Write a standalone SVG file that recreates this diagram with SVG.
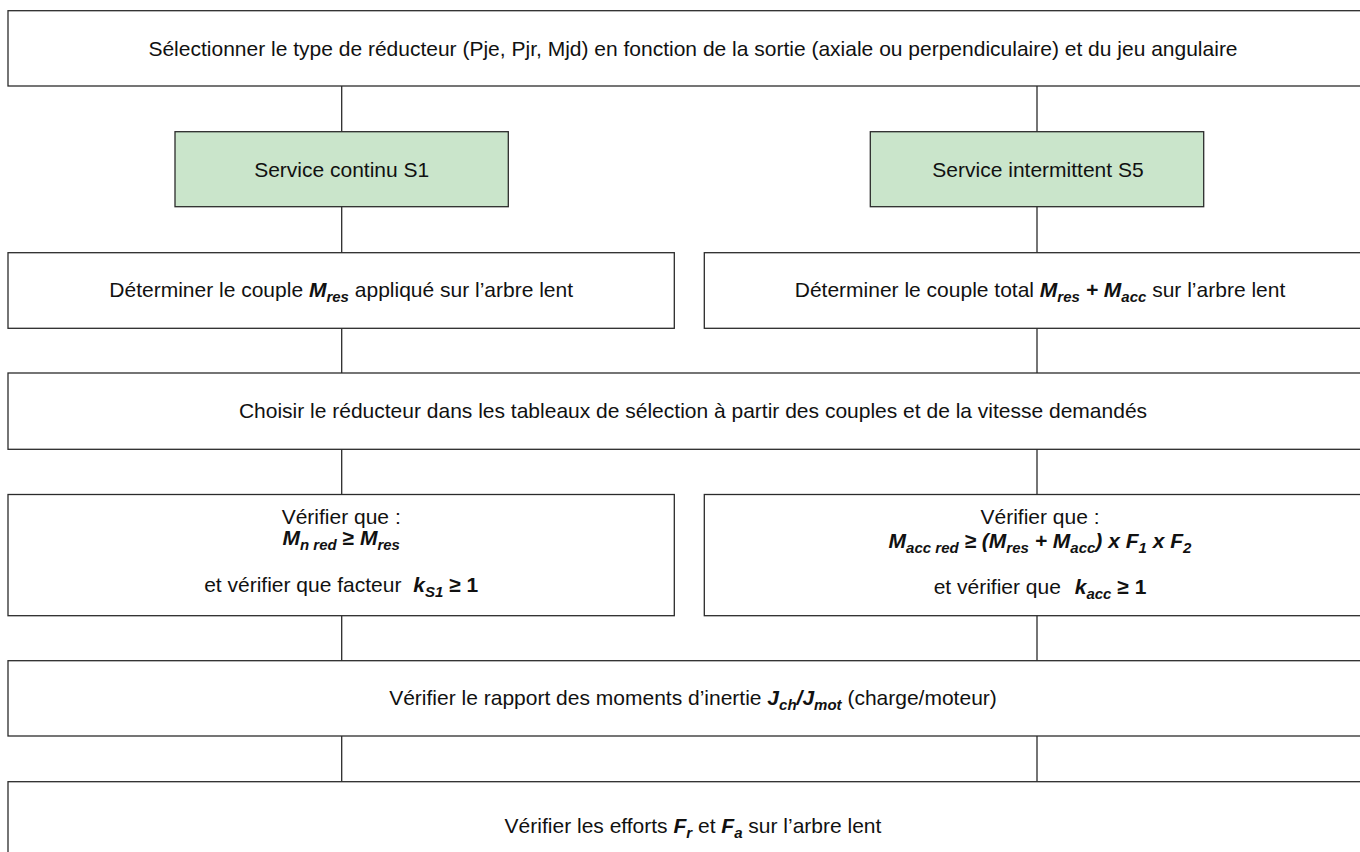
<svg xmlns="http://www.w3.org/2000/svg" width="1360" height="852" viewBox="0 0 1360 852">
<style>
.box{fill:#ffffff;stroke:#2b2b2b;stroke-width:1.3}
.green{fill:#cae5cb}
.t{font-family:"Liberation Sans",Arial,sans-serif;font-size:21px;fill:#111;text-anchor:middle}
.bi{font-weight:bold;font-style:italic}
.b{font-weight:bold}
.sub{font-size:15px}
.conn{stroke:#2b2b2b;stroke-width:1.3;fill:none}
</style>
<rect width="1360" height="852" fill="#ffffff"/>
<g id="connectors">
<path class="conn" d="M341.7 86V131.7M1037 86V131.7M341.7 206.7V252.7M1037 206.7V252.7M341.7 328.3V373M1037 328.3V373M341.7 449.3V494.5M1037 449.3V494.5M341.7 615.7V660.7M1037 615.7V660.7M341.7 736V781.7M1037 736V781.7"/>
</g>
<g id="n-type">
<rect class="box" x="8" y="10.7" width="1370" height="75.3"/>
<text class="t" x="693" y="56">Sélectionner le type de réducteur (Pje, Pjr, Mjd) en fonction de la sortie (axiale ou perpendiculaire) et du jeu angulaire</text>
</g>
<g id="n-s1">
<rect class="box green" x="175" y="131.7" width="333.3" height="75"/>
<text class="t" x="341.7" y="176.5">Service continu S1</text>
</g>
<g id="n-s5">
<rect class="box green" x="870.3" y="131.7" width="333.4" height="75"/>
<text class="t" x="1038" y="176.5">Service intermittent S5</text>
</g>
<g id="n-mres">
<rect class="box" x="8" y="252.7" width="666.3" height="75.6"/>
<text class="t" x="341.2" y="296.5">Déterminer le couple <tspan class="bi">M</tspan><tspan class="bi sub" dy="5">res</tspan><tspan dy="-5"> appliqué sur l’arbre lent</tspan></text>
</g>
<g id="n-mtot">
<rect class="box" x="704.3" y="252.7" width="672" height="75.6"/>
<text class="t" x="1040" y="296.5">Déterminer le couple total <tspan class="bi">M</tspan><tspan class="bi sub" dy="5">res</tspan><tspan class="bi" dy="-5"> + M</tspan><tspan class="bi sub" dy="5">acc</tspan><tspan dy="-5"> sur l’arbre lent</tspan></text>
</g>
<g id="n-choisir">
<rect class="box" x="8" y="373" width="1370" height="76.3"/>
<text class="t" x="693" y="418">Choisir le réducteur dans les tableaux de sélection à partir des couples et de la vitesse demandés</text>
</g>
<g id="n-verif1">
<rect class="box" x="8" y="494.5" width="666.3" height="121.2"/>
<text class="t" x="341.2" y="524">Vérifier que :</text>
<text class="t" x="341.2" y="545"><tspan class="bi">M</tspan><tspan class="bi sub" dy="5">n red</tspan><tspan class="b" dy="-5"> ≥ </tspan><tspan class="bi">M</tspan><tspan class="bi sub" dy="5">res</tspan></text>
<text class="t" x="341.2" y="592">et vérifier que facteur <tspan class="bi" dx="6">k</tspan><tspan class="bi sub" dy="5">S1</tspan><tspan class="b" dy="-5"> ≥ 1</tspan></text>
</g>
<g id="n-verif5">
<rect class="box" x="704.3" y="494.5" width="672" height="121.2"/>
<text class="t" x="1040" y="524">Vérifier que :</text>
<text class="t" x="1040" y="547.5"><tspan class="bi">M</tspan><tspan class="bi sub" dy="5">acc red</tspan><tspan class="bi" dy="-5"> ≥ (M</tspan><tspan class="bi sub" dy="5">res</tspan><tspan class="bi" dy="-5"> + M</tspan><tspan class="bi sub" dy="5">acc</tspan><tspan class="bi" dy="-5">) x F</tspan><tspan class="bi sub" dy="5">1</tspan><tspan class="bi" dy="-5"> x F</tspan><tspan class="bi sub" dy="5">2</tspan></text>
<text class="t" x="1040" y="594">et vérifier que <tspan class="bi" dx="8">k</tspan><tspan class="bi sub" dy="5">acc</tspan><tspan class="b" dy="-5"> ≥ 1</tspan></text>
</g>
<g id="n-inertie">
<rect class="box" x="8" y="660.7" width="1370" height="75.3"/>
<text class="t" x="693" y="705">Vérifier le rapport des moments d’inertie <tspan class="bi">J</tspan><tspan class="bi sub" dy="5">ch</tspan><tspan class="bi" dy="-5">/J</tspan><tspan class="bi sub" dy="5">mot</tspan><tspan dy="-5"> (charge/moteur)</tspan></text>
</g>
<g id="n-efforts">
<rect class="box" x="8" y="781.7" width="1370" height="100"/>
<text class="t" x="693" y="833">Vérifier les efforts <tspan class="bi">F</tspan><tspan class="bi sub" dy="5">r</tspan><tspan dy="-5"> et </tspan><tspan class="bi">F</tspan><tspan class="bi sub" dy="5">a</tspan><tspan dy="-5"> sur l’arbre lent</tspan></text>
</g>
</svg>
